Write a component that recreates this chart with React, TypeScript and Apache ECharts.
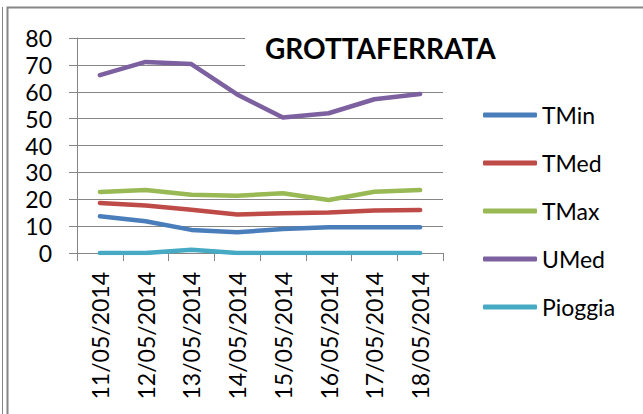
import React, { useEffect, useRef } from "react";
import * as echarts from "echarts";

const categories = [
  "11/05/2014",
  "12/05/2014",
  "13/05/2014",
  "14/05/2014",
  "15/05/2014",
  "16/05/2014",
  "17/05/2014",
  "18/05/2014",
];
const tMin = [13.7, 11.8, 8.6, 7.7, 8.9, 9.6, 9.6, 9.6];
const tMed = [18.6, 17.7, 16.1, 14.3, 14.8, 15.1, 15.8, 16.0];
const tMax = [22.7, 23.4, 21.7, 21.3, 22.2, 19.7, 22.8, 23.4];
const uMed = [66.2, 71.1, 70.3, 59.0, 50.4, 52.0, 57.2, 59.2];
const pioggia = [0, 0, 1.2, 0, 0, 0, 0, 0];

const seriesNames = ["TMin", "TMed", "TMax", "UMed", "Pioggia"];
const seriesData = [tMin, tMed, tMax, uMed, pioggia];
const colors = ["#4A7EBB", "#BE4B48", "#98B954", "#7D60A0", "#46AAC5"];

const FONT = "Lato";
const GRAY = "#868686";

export default function App() {
  const ref = useRef<HTMLDivElement>(null);
  useEffect(() => {
    if (!ref.current) return;
    const chart = echarts.init(ref.current, null, { renderer: "svg" });
    chart.setOption({
      animation: false,
      backgroundColor: "#ffffff",
      color: colors,
      title: {
        text: "GROTTAFERRATA",
        left: 245,
        top: 28,
        backgroundColor: "#ffffff",
        padding: [6, 20, 22, 20],
        textStyle: {
          fontFamily: FONT,
          fontWeight: "bold",
          fontSize: 28,
          color: "#000000",
        },
      },
      legend: {
        orient: "vertical",
        left: 483,
        top: 103,
        padding: 0,
        icon: "roundRect",
        itemWidth: 54,
        itemHeight: 5,
        itemGap: 24,
        data: seriesNames,
        textStyle: {
          fontFamily: FONT,
          fontSize: 23,
          lineHeight: 24,
          color: "#000000",
        },
      },
      grid: { left: 77, top: 38, right: 200, bottom: 161 },
      xAxis: {
        type: "category",
        data: categories,
        boundaryGap: true,
        axisLine: { show: true, lineStyle: { color: GRAY, width: 1 } },
        axisTick: { show: true, length: 8, interval: 0, lineStyle: { color: GRAY } },
        axisLabel: {
          rotate: 90,
          interval: 0,
          margin: 19,
          fontFamily: FONT,
          fontSize: 23,
          color: "#000000",
        },
      },
      yAxis: {
        type: "value",
        min: 0,
        max: 80,
        interval: 10,
        axisLine: { show: true, lineStyle: { color: GRAY, width: 1 } },
        axisTick: { show: true, length: 8, lineStyle: { color: GRAY } },
        splitLine: { show: true, lineStyle: { color: GRAY, width: 1 } },
        axisLabel: {
          margin: 25,
          fontFamily: FONT,
          fontSize: 23,
          color: "#000000",
        },
      },
      graphic: [
        {
          type: "line",
          shape: { x1: 2.5, y1: 7, x2: 2.5, y2: 414 },
          style: { stroke: GRAY, lineWidth: 1 },
        },
        {
          type: "polyline",
          shape: {
            points: [
              [7.5, 414],
              [7.5, 7.5],
              [643, 7.5],
            ],
          },
          style: { stroke: GRAY, lineWidth: 2, fill: "none" },
        },
      ],
      series: seriesNames.map((name, i) => ({
        name,
        type: "line",
        data: seriesData[i],
        symbol: "none",
        smooth: false,
        lineStyle: { width: 4.5, color: colors[i], cap: "round", join: "round" },
        itemStyle: { color: colors[i] },
      })),
    });
    return () => chart.dispose();
  }, []);
  return (
    <div
      ref={ref}
      style={{ position: "absolute", left: 0, top: 0, width: 643, height: 414 }}
    />
  );
}
